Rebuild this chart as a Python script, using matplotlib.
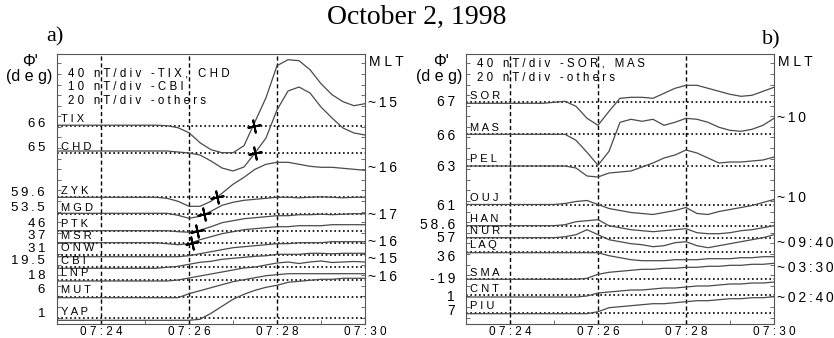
import numpy as np
import matplotlib
matplotlib.use("Agg")
import matplotlib.pyplot as plt

# ---------------- data ----------------
# time grid: minutes after 07:00 (07:23 ... 07:30, 15 s steps)
t = np.arange(23.0, 30.001, 0.25)

# Panel a) stations, corrected latitudes, baseline levels, deflections
a_stations = ["TIX", "CHD", "ZYK", "MGD", "PTK", "MSR", "ONW", "CBI", "LNP", "MUT", "YAP"]
a_lat = ["66", "65", "59.6", "53.5", "46", "37", "31", "19.5", "18", "6", "1"]
a_base = [198.3, 171.0, 126.7, 109.7, 93.3, 81.3, 69.3, 56.7, 44.0, 27.3, 5.7]

TIX = [0.5]*10 + [0, -2, -7, -17, -24, -27, -27, -20, 4, 28, 60, 66, 65, 56, 42, 31, 24, 20, 22]
CHD = [2]*11 + [1, 0, -2, -8, -15, -18, -14, 0, 15, 43, 62, 66, 60, 46, 35, 25, 20, 18]
ZYK = [0]*10 + [-1, -4, -9, -9, -4, 4, 13, 20, 28, 33, 35, 35, 33, 31, 30, 30, 29, 28, 27]
MGD = [1]*11 + [-1, -4, -2, 3, 9, 12, 14, 15, 16, 17, 17, 16.5, 17, 17.5, 17, 16.5, 17, 17]
PTK = [0]*11 + [-1, -1.5, 0.5, 4, 8, 10, 12, 13, 14, 15, 15, 16, 16, 16.5, 16, 16.5, 17, 17]
MSR = [0]*10 + [-1, -2, -1, 3, 6, 9, 11, 13, 14, 15, 16, 16, 17, 17, 17, 18, 18, 18, 18]
ONW = [-2]*12 + [-1, 1, 3, 5, 7, 8, 9, 10, 11, 11, 12, 12, 12, 13, 13, 13, 13]
CBI = [-1]*10 + [0, 1, 3, 5, 6, 8, 9, 10, 11, 11.5, 13, 13, 13, 14, 14, 13.5, 14, 14, 14]
LNP = [-1]*11 + [0, 2, 4, 6, 8, 10, 12, 13, 15, 17, 18, 16.5, 18, 19, 17.5, 18, 18.5, 18]
MUT = [-1]*12 + [3, 6, 9, 12, 15, 17, 19, 21, 22, 23, 23, 23, 23, 23, 23, 23, 23]
YAP = [-2]*13 + [-1, 5, 12, 19, 24, 28, 31, 33, 36, 37, 38, 39, 39, 40, 40, 40]
a_values = [TIX, CHD, ZYK, MGD, PTK, MSR, ONW, CBI, LNP, MUT, YAP]

# onset markers (time where trace crosses its baseline)
a_cross_st = ["TIX", "CHD", "ZYK", "MGD", "PTK", "MSR"]
a_cross_t = [27.47, 27.50, 26.63, 26.35, 26.18, 26.07]

a_mlt = ["~15", "~16", "~17", "~16", "~15", "~16"]
a_header = ["40 nT/div -TIX, CHD", "10 nT/div -CBI", "20 nT/div -others"]

# Panel b)
b_stations = ["SOR", "MAS", "PEL", "OUJ", "HAN", "NUR", "LAQ", "SMA", "CNT", "PIU"]
b_lat = ["67", "66", "63", "61", "58.6", "57", "36", "-19", "1", "7"]
b_base = [221.7, 189.7, 158.0, 119.5, 98.3, 86.3, 72.3, 44.7, 29.0, 11.3]

SOR = [-1]*8 + [0, 1, -4, -16, -23, -9, 4, 5, 5, 4, 9, 14, 17, 17, 14, 11, 8, 6, 7, 11, 15]
MAS = [0]*10 + [-6, -18, -31, -17, 12, 15, 13, 15, 9, 12, 16, 15, 12, 7, 4, 3, 5, 9, 16]
PEL = [0]*10 + [-2, -10, -11, -7, -6, -5, -1, 3, 8, 11, 16, 13, 8, 3, 4, 4, 5, 6, 9]
OUJ = [0]*9 + [1, 3, 4, 0, -4, -6, -8, -9, -10, -8, -6, -3, -9, -10, -7, -5, -3, -1, 2, 5]
HAN = [0]*9 + [1, 4, 5, 6, 0, -2, -4, -5, -6, -5, -4, -3, -7, -8, -8, -7, -5, -4, -2, 0]
NUR = [0]*9 + [1, 3, 8, 3, -2, -4, -6, -7, -9, -8, -5, -4, -8, -10, -8, -6, -4, -2, 0, 3]
LAQ = [-1]*13 + [-4, -6, -8, -9, -9, -9, -8, -8, -8, -7, -7, -7, -6, -6, -5, -5]
SMA = [0]*11 + [1, 5, 7, 8, 9, 10, 10, 11, 11, 12, 12, 13, 13, 14, 14, 15, 15, 16]
CNT = [-2]*11 + [-1, 2, 3, 4, 5, 5, 6, 7, 7, 8, 9, 9, 10, 11, 11, 12, 12, 13]
PIU = [-1]*12 + [1, 5, 6, 7, 8, 9, 9, 10, 11, 12, 12, 13, 14, 14, 15, 15, 16]
b_values = [SOR, MAS, PEL, OUJ, HAN, NUR, LAQ, SMA, CNT, PIU]

b_mlt = ["~10", "~10", "~09:40", "~03:30", "~02:40"]
b_header = ["40 nT/div -SOR, MAS", "20 nT/div -others"]

xticks = [24, 26, 28, 30]
xticklabels = ["07:24", "07:26", "07:28", "07:30"]

# ---------------- layout ----------------
W, H = 834, 338
SANS = ["Liberation Sans", "DejaVu Sans"]
SERIF = ["Liberation Serif", "DejaVu Serif"]
plt.rcParams["font.family"] = SANS

fig = plt.figure(figsize=(W / 100, H / 100), dpi=100)


def fx(px):
    return px / W


def fy(py):
    return 1 - py / H


def sp(s, gap=" "):
    return gap.join(s)


def ftext(px, py, s, **kw):
    fig.text(fx(px), fy(py), s, **kw)


TRACE = "#4a4a4a"
THIN = "\u2009"


def panel(left_px, stations, base, values, lat, lat_py, lat_x, lat_fs,
          mlt, mlt_py, header, header_py):
    ax = fig.add_axes([fx(left_px), fy(324), 308 / W, 270 / H])
    ax.set_xlim(23, 30)
    ax.set_ylim(0, 270)
    for s_ in ax.spines.values():
        s_.set_color("#555555")
        s_.set_linewidth(0.8)
    ax.set_xticks(xticks)
    ax.set_xticklabels([sp(s) for s in xticklabels], fontsize=8.5)
    ax.set_xticks(np.arange(23, 30.01, 1.0), minor=True)
    ax.set_yticks([])
    ax.set_yticks(np.arange(260.7, 0, -10.6), minor=True)
    ax.tick_params(axis="x", which="both", direction="in", length=3, color="#555555", pad=1.5)
    ax.tick_params(axis="y", which="minor", direction="in", length=3, color="#555555",
                   left=True, right=True)
    for xv in [24, 26, 28]:
        ax.axvline(xv, color="black", lw=1.0, ls=(0, (3, 2)), zorder=3)
    for name, b, v in zip(stations, base, values):
        ax.plot([23, 30], [b, b], color="black", lw=1.2, ls=(0, (1, 1.6)), zorder=2)
        ax.plot(t, b + np.asarray(v, float), color=TRACE, lw=0.9, zorder=4)
        ax.text(23.08, b + 1.5, sp(name), fontsize=8, va="bottom", ha="left", zorder=5)
    for s, py in zip(lat, lat_py):
        ftext(lat_x, py, sp(s, THIN), fontsize=lat_fs, ha="right", va="center")
    for s, py in zip(mlt, mlt_py):
        ftext(left_px + 311, py, sp(s, THIN), fontsize=10, ha="left", va="center")
    ftext(left_px + 312, 62, sp("MLT"), fontsize=10, ha="left", va="center")
    for s, py in zip(header, header_py):
        ftext(left_px + 11, py, sp(s), fontsize=8.3, ha="left", va="center")
    return ax


axa = panel(57, a_stations, a_base, a_values, a_lat,
            [124, 148, 193, 208, 224, 236, 249, 261, 276, 290, 314], 45, 9.5,
            a_mlt, [103, 168, 215, 242, 259, 277],
            a_header, [73, 87, 101])
for st, tc in zip(a_cross_st, a_cross_t):
    b = a_base[a_stations.index(st)]
    axa.plot([tc], [b], marker=(4, 2, 12), ms=10, mew=1.4, color="black", zorder=6)

axb = panel(466, b_stations, b_base, b_values, b_lat,
            [102, 136, 167, 206, 225, 238, 257, 279, 297, 311], 455, 10,
            b_mlt, [118, 198, 243, 268, 298],
            b_header, [64, 78])

# axis titles
ftext(30, 61, "\u03a6'", fontsize=11.5, ha="center", va="center")
ftext(29, 76, "(d e g)", fontsize=11.5, ha="center", va="center")
ftext(441, 61, "\u03a6'", fontsize=11.5, ha="center", va="center")
ftext(439, 76, "(d e g)", fontsize=11.5, ha="center", va="center")

ftext(417, 17, "October 2, 1998", fontsize=20, ha="center", va="center", family=SERIF)
ftext(55, 37, "a)", fontsize=16, ha="center", va="center", family=SERIF)
ftext(771, 40, "b)", fontsize=16, ha="center", va="center", family=SERIF)

fig.savefig("out.png", dpi=100)
